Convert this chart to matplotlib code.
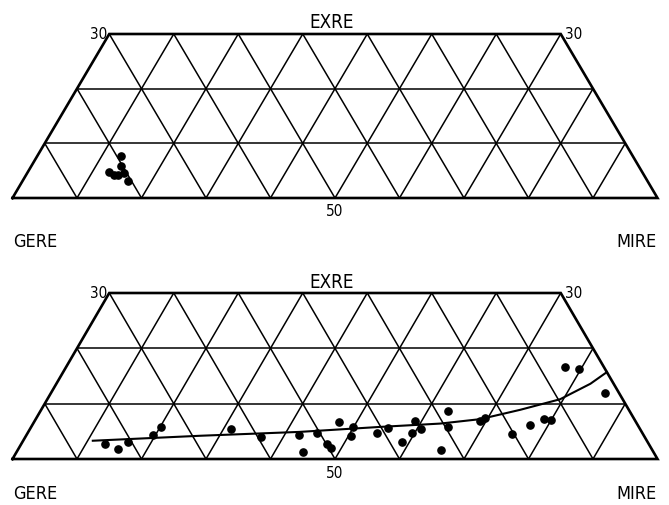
import numpy as np
import matplotlib
matplotlib.use("Agg")
import matplotlib.pyplot as plt

# ---- data (ternary: MIRE %, EXRE %, GERE = 100 - MIRE - EXRE) ----
top_mire = [13.0, 13.8, 12.6, 13.6, 14.3, 15.0, 16.3]
top_exre = [7.6, 5.9, 4.7, 4.2, 4.2, 4.5, 3.2]

bot_mire = [13.0, 15.4, 16.4, 19.6, 20.1, 31.2, 36.6, 42.2, 44.4, 44.9,
            47.4, 48.4, 47.2, 50.4, 49.9, 54.2, 55.4, 58.9, 59.6, 59.0,
            60.6, 65.6, 63.1, 64.6, 69.1, 69.5, 75.1, 77.2, 78.7, 79.9,
            77.3, 79.8, 85.9]
bot_exre = [2.7, 1.8, 3.1, 4.3, 5.8, 5.4, 3.9, 4.4, 1.3, 4.7,
            2.8, 2.0, 6.7, 4.2, 5.8, 4.7, 5.6, 3.1, 4.7, 6.8,
            5.4, 1.6, 8.7, 5.8, 6.9, 7.4, 4.6, 6.2, 7.3, 7.1,
            16.7, 16.2, 12.0]

curve_mire = [10.8, 27.0, 42.1, 54.1, 63.1, 68.9, 74.3, 79.5, 82.8, 84.3]
curve_exre = [3.3, 4.2, 4.9, 5.8, 6.4, 7.2, 8.9, 10.8, 13.6, 15.7]

axis_labels = ["EXRE", "GERE", "MIRE"]
tick_top = "30"
tick_mid = "50"
EMAX = 30
grid_step = 10

W, H = 669, 505
fig = plt.figure(figsize=(W / 100, H / 100), dpi=100)

def cart(m, e):
    m = np.asarray(m, float); e = np.asarray(e, float)
    return m + e / 2.0, e

def draw_panel(ax):
    ax.set_xlim(0, 100)
    ax.set_ylim(0, EMAX)
    ax.axis("off")
    kw_in = dict(color="black", lw=1.1, solid_capstyle="butt")
    for e in range(grid_step, EMAX, grid_step):
        ax.plot([e / 2, 100 - e / 2], [e, e], **kw_in)
    for m in range(grid_step, 100, grid_step):
        etop = min(EMAX, 100 - m)
        x, y = cart([m, m], [0, etop])
        ax.plot(x, y, **kw_in)
    for g in range(grid_step, 100, grid_step):
        etop = min(EMAX, 100 - g)
        m0, m1 = 100 - g, 100 - g - etop
        x, y = cart([m0, m1], [0, etop])
        ax.plot(x, y, **kw_in)
    ox, oy = cart([0, 100, 100 - EMAX, 0, 0], [0, 0, EMAX, EMAX, 0])
    ax.plot(ox, oy, color="black", lw=1.9, solid_joinstyle="miter", clip_on=False)

def px(x, y):
    return x / W, 1 - y / H

lab_kw = dict(family="DejaVu Sans", fontstretch="condensed", color="black")

def labels(ytop, ybot, ylab):
    fig.text(*px(332, ytop - 11), axis_labels[0], ha="center", va="center", fontsize=13.5, **lab_kw)
    fig.text(*px(107, ytop), tick_top, ha="right", va="center", fontsize=11, **lab_kw)
    fig.text(*px(565, ytop), tick_top, ha="left", va="center", fontsize=11, **lab_kw)
    fig.text(*px(335, ybot + 14), tick_mid, ha="center", va="center", fontsize=11, **lab_kw)
    fig.text(*px(13, ylab), axis_labels[1], ha="left", va="center", fontsize=13, **lab_kw)
    fig.text(*px(657, ylab), axis_labels[2], ha="right", va="center", fontsize=13, **lab_kw)

x0, x1 = 12.5, 657.5
ax1 = fig.add_axes([x0 / W, (H - 198) / H, (x1 - x0) / W, 164 / H])
draw_panel(ax1)
x, y = cart(top_mire, top_exre)
ax1.plot(x, y, "o", color="black", ms=5.2, clip_on=False)
labels(34, 198, 242)

ax2 = fig.add_axes([x0 / W, (H - 459) / H, (x1 - x0) / W, 166 / H])
draw_panel(ax2)
x, y = cart(bot_mire, bot_exre)
ax2.plot(x, y, "o", color="black", ms=5.2, clip_on=False)
cx, cy = cart(curve_mire, curve_exre)
ax2.plot(cx, cy, color="black", lw=1.5, solid_joinstyle="round")
labels(293, 459, 494)

fig.savefig("out.png", dpi=100)
